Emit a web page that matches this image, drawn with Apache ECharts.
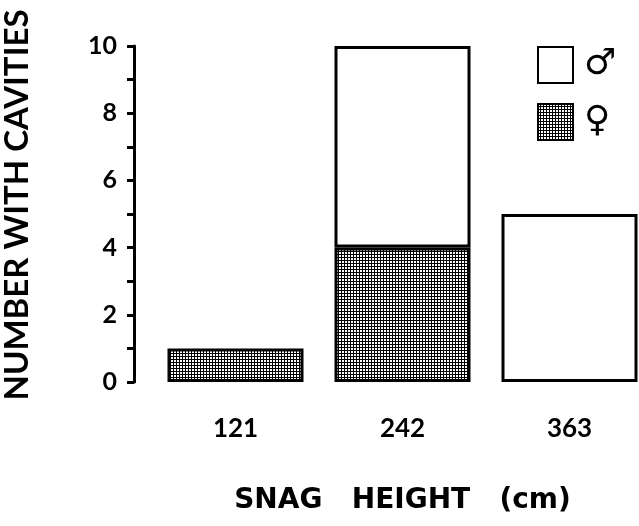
<!DOCTYPE html>
<html>
<head>
<meta charset="utf-8">
<script src="https://cdn.jsdelivr.net/npm/echarts@6/dist/echarts.min.js"></script>
<style>
  html, body { margin: 0; padding: 0; background: #fff; }
  #chart { width: 639px; height: 526px; }
</style>
</head>
<body>
<div id="chart"></div>
<script>
// snag height classes (cm)
const heights = ['121', '242', '363']
// cavity counts by sex
const female = [1, 4, 0]
const male = [0, 6, 5]

const font = "Lato, 'DejaVu Sans', sans-serif"

// fine screen pattern for the female bars
const makeScreen = () => {
  const c = document.createElement('canvas')
  c.width = 3
  c.height = 3
  const g = c.getContext('2d')
  g.fillStyle = '#fff'
  g.fillRect(0, 0, 3, 3)
  g.fillStyle = '#000'
  g.fillRect(0, 2, 3, 1)
  g.fillRect(2, 0, 1, 3)
  return c
}
const screen = { image: makeScreen(), repeat: 'repeat' }

// zero counts are not drawn
const clean = (arr) => arr.map((v) => (v === 0 ? '-' : v))

const chart = echarts.init(document.getElementById('chart'))
chart.setOption({
  animation: false,
  grid: { left: 152, top: 46, bottom: 144, width: 501, outerBoundsMode: 'none', containLabel: false },
  legend: {
    orient: 'vertical',
    left: 537,
    top: 46,
    padding: 0,
    icon: 'rect',
    itemWidth: 35,
    itemHeight: 36,
    itemGap: 19,
    selectedMode: false,
    data: ['♂', '♀'],
    textStyle: { fontSize: 36, color: '#000', fontFamily: "'DejaVu Sans'", fontWeight: 'bold', padding: [0, 0, 0, 6] },
  },
  xAxis: {
    type: 'category',
    data: heights,
    axisLine: { show: false },
    axisTick: { show: false },
    axisLabel: { color: '#000', fontSize: 26, fontWeight: 'bold', fontFamily: font, margin: 34 },
    name: 'SNAG   HEIGHT   (cm)',
    nameLocation: 'middle',
    nameGap: 105,
    nameTextStyle: { color: '#000', fontSize: 28, fontWeight: 'bold', fontFamily: "'DejaVu Sans'", verticalAlign: 'top' },
  },
  yAxis: {
    type: 'value',
    min: 0,
    max: 10,
    interval: 2,
    offset: 18,
    splitLine: { show: false },
    axisLine: { show: true, lineStyle: { color: '#000', width: 3 } },
    axisTick: { show: true, length: 7, lineStyle: { color: '#000', width: 3 } },
    minorTick: { show: true, splitNumber: 2, length: 7, lineStyle: { color: '#000', width: 3 } },
    axisLabel: { color: '#000', fontSize: 25, fontWeight: 'bold', fontFamily: font, margin: 17 },
    name: 'NUMBER WITH CAVITIES',
    nameLocation: 'middle',
    nameRotate: 90,
    nameGap: 100,
    nameTextStyle: { color: '#000', fontSize: 33, fontWeight: 'bold', fontFamily: font, padding: [0, 0, 0, 18] },
  },
  series: [
    {
      name: '♀',
      type: 'bar',
      stack: 'sex',
      barWidth: 136,
      data: clean(female),
      itemStyle: { color: screen, borderColor: '#000', borderWidth: 3 },
      emphasis: { disabled: true },
    },
    {
      name: '♂',
      type: 'bar',
      stack: 'sex',
      barWidth: 136,
      data: clean(male),
      itemStyle: { color: '#fff', borderColor: '#000', borderWidth: 3 },
      emphasis: { disabled: true },
    },
  ],
})
</script>
</body>
</html>
